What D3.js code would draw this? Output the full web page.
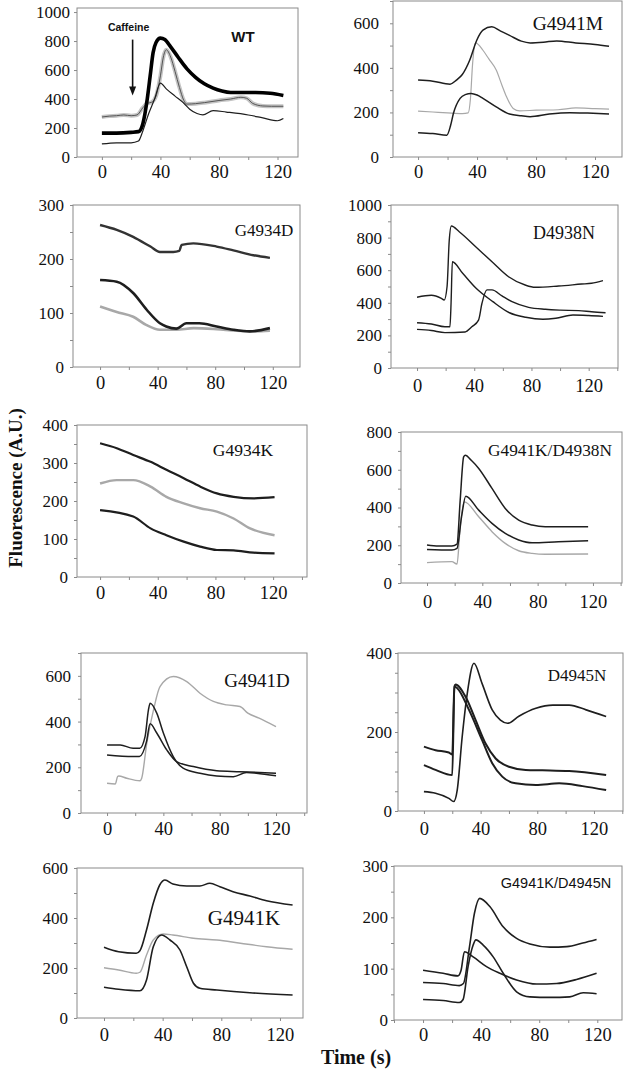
<!DOCTYPE html>
<html><head><meta charset="utf-8">
<script src="https://cdn.jsdelivr.net/npm/d3@7"></script>
<style>
html,body{margin:0;padding:0;background:#fff;}
svg{display:block;}
</style></head>
<body>
<svg id="chart" width="633" height="1079"></svg>
<script>
// ---------- DATA ----------
const panelNames = ["WT","G4941M","G4934D","D4938N","G4934K","G4941K/D4938N","G4941D","D4945N","G4941K","G4941K/D4945N"];
const yMaxes = [1028,700,300,1000,400,800,700,400,600,300];
const yMajorTicks = [
  [0,200,400,600,800,1000],[0,200,400,600],[0,100,200,300],[0,200,400,600,800,1000],[0,100,200,300,400],
  [0,200,400,600,800],[0,200,400,600],[0,200,400],[0,200,400,600],[0,100,200,300]];
const yMinorSteps = [200,100,50,100,50,100,100,50,100,50];
const xTickLabels = [0,40,80,120];
const xTickMarks = [-20,0,20,40,60,80,100,120,140];
const caffeineTime = 21, caffeineFrom = 810, caffeineTo = 425;

// WT
const wtThick = [[0,165],[10,165],[20,170],[25,175],[28,230],[31,400],[33,560],[35,720],[37,790],[40,820],[43,810],[47,760],[52,690],[58,610],[64,550],[70,505],[76,475],[82,455],[88,445],[95,445],[105,445],[115,440],[124,425]];
const wtGray = [[0,276],[5,282],[10,285],[15,290],[20,285],[24,290],[28,340],[31,370],[34,378],[37,420],[40,560],[42,690],[44,740],[47,690],[50,590],[53,480],[56,390],[58,365],[64,368],[70,375],[80,390],[88,400],[95,412],[99,405],[103,370],[110,352],[116,350],[124,350]];
const wtThin = [[0,90],[10,98],[20,98],[25,110],[28,180],[32,300],[36,400],[40,510],[44,470],[50,420],[55,380],[60,330],[65,300],[69,290],[76,320],[85,310],[100,290],[110,270],[120,250],[124,265]];
// G4941M
const mTop = [[0,345],[10,340],[21.7,327],[26,345],[30,370],[35,434],[39.8,524],[44,569],[50,584],[56,565],[62,546],[70,520],[76,512],[85,515],[94,521],[107,512],[120,505],[129.5,497]];
const mGray = [[0,206],[10,202],[20,198],[30,195],[34,198],[35.5,260],[37,420],[39,512],[44,479],[48,440],[53,390],[57,320],[60,270],[64.5,218],[69,207],[80,210],[95,212],[107,220],[120,217],[129.5,215]];
const mBot = [[0,109],[10,105],[19.5,98],[22,140],[24,196],[28.5,263],[32,280],[36,285],[40,278],[44,263],[53,225],[62,193],[70,185],[76,181],[89,193],[103,199],[115,197],[129.5,193]];
// G4934D
const dTop = [[0,263],[11.6,254],[23,241],[35,223],[41.6,213],[50.9,213],[55,215],[56.7,226],[64.8,229],[81,223],[92.6,216],[106.5,207],[118,202]];
const dMid = [[0,161],[11.6,158],[23,137],[32.4,106],[41.6,81],[46,75],[53,71],[60,81],[69,81],[81,75],[92.6,69],[104,66],[118,72]];
const dGray = [[0,112],[11.6,102],[23,93],[32,78],[41.6,69],[53,69],[65,72],[81,70],[95,67],[108,66],[118,67]];
// D4938N
const nTop = [[0,434],[10,446],[17,427],[19,417],[21,500],[22.5,780],[24,871],[29.5,836],[41,744],[52.4,652],[64,560],[75.6,509],[82.6,495],[99,503],[115,515],[122,520],[130,536]];
const nMid = [[0,278],[10,270],[19.5,253],[23,253],[23.8,400],[24.7,652],[31.9,581],[41.3,489],[53,407],[64.6,339],[76,311],[88,299],[97,305],[109,325],[120,322],[130,317]];
const nLate = [[0,237],[10,230],[19.5,217],[33.6,221],[38.3,253],[43,294],[45.4,397],[48.9,479],[52.4,479],[59.4,442],[66.4,407],[78,372],[89.8,360],[100,355],[113,352],[122,345],[131.8,339]];
// G4934K
const kTop = [[0,352],[11.6,339],[23,321],[35,303],[46,282],[58,260],[69.4,238],[81,220],[92.6,211],[106.5,207],[121,210]];
const kGray = [[0,246],[11.6,255],[23,255],[35,238],[46,211],[58,194],[69.4,181],[81,172],[92.6,154],[104,128],[121,110]];
const kBot = [[0,176],[23,159],[35,128],[46,110],[58,93],[69.4,80],[81,71],[92.6,70],[106.5,64],[121,62]];
// G4941K/D4938N
const jTop = [[0,201],[8.3,196],[18,196],[21.7,206],[24,439],[26.5,668],[27.7,677],[32,650],[37.4,607],[47,501],[56.6,395],[66.3,333],[76,307],[85.5,298],[105,298],[116.5,298]];
const jMid = [[0,178],[18,175],[21.7,184],[25,351],[28,460],[37.4,386],[47,316],[56.6,263],[66.3,228],[76,213],[95,219],[116.5,224]];
const jGray = [[0,108],[18,113],[21.7,100],[24,298],[27,430],[37.4,351],[47,272],[56.6,210],[66.3,171],[76,157],[85.5,152],[116.5,154]];
// G4941D
const gA = [[0,298],[9.4,298],[18.5,283],[23.2,283],[27,334],[29.4,451],[30.6,480],[35.3,437],[40,350],[47,247],[54,196],[66,174],[77.9,162],[89.7,159],[99,177],[106,174],[120,163]];
const gB = [[0,254],[18.5,247],[23,247],[28,312],[30.6,390],[35.3,350],[42.4,276],[49.4,225],[61.3,203],[77.9,185],[94.4,181],[120,174]];
const gC = [[0,130],[5.9,127],[7.5,160],[8.3,162],[14,152],[23.4,141],[24.6,152],[28.2,305],[33,451],[37.6,553],[47,597],[56.6,575],[66,524],[75.5,488],[85,473],[94.4,466],[100,437],[108,415],[120,378]];
// D4945N
const eA = [[0,49],[8.2,45],[17.6,32],[21,24],[23.5,53],[27,188],[30.6,298],[35.3,374],[41,323],[48.2,256],[54,230],[59,222],[67,240],[79,260],[91,268],[102.5,268],[114.5,256],[128.6,239]];
const eB = [[0,163],[8.2,154],[17.6,148],[20,143],[21.5,315],[22.3,320],[29.4,289],[36.5,230],[43.5,171],[50.6,133],[60,112],[71.8,104],[83.6,103],[102.5,101],[128.6,91]];
const eC = [[0,116],[8.2,104],[20,91],[21.5,315],[23.5,311],[31.8,256],[41,180],[48.2,121],[55.3,87],[64.7,70],[79,66],[95.5,70],[112,63],[128.6,53]];
// G4941K
const hTop = [[0,283],[10,265],[22,259],[24.5,269],[29,352],[33.6,459],[38,532],[41.6,552],[47,536],[56.4,528],[65.4,528],[72.2,539],[79,525],[88,505],[99.5,488],[110.8,469],[128.6,452]];
const hGray = [[0,201],[10,192],[22,179],[24.5,183],[29,252],[33.6,312],[40.4,336],[47,332],[61,319],[77,312],[93,299],[110.8,285],[128.6,275]];
const hBot = [[0,123],[10,115],[24.5,109],[29,152],[33.6,285],[39.3,332],[45,312],[51.8,272],[56.4,205],[61,139],[65.4,119],[77,112],[99.5,101],[128.6,92]];
// G4941K/D4945N
const iA = [[0,73],[13.8,71],[25,67],[27.8,71],[32,143],[35.4,208],[39,237],[46,221],[55,182],[64.4,159],[73.6,148],[87.4,142],[99,143],[110,150],[119.5,157]];
const iB = [[0,40],[13.8,38],[25,34],[27.6,40],[31,104],[34.5,146],[36.4,156],[41.4,146],[48.3,123],[55.2,91],[64.4,55],[73.6,45],[87.4,44],[101,45],[110.3,53],[119.5,51]];
const iC = [[0,97],[13.8,91],[24,86],[26.2,97],[28.5,133],[34.5,123],[43.7,104],[52.9,91],[64.4,78],[78.2,70],[92,71],[105.7,79],[119.5,91]];

// ---------- LAYOUT / STYLE ----------
const DARK = "#1e1e1e", GRAY = "#a8a8a8";
const layout = [
  {rect:[77,8,298,157],   xd:[-17,134],  title:{x:243,y:36,size:15,font:"sans",bold:true}, lab:7},
  {rect:[393,1,622,157],  xd:[-17,138.3],title:{x:568,y:23,size:19.5}, lab:14},
  {rect:[73,205,300,367], xd:[-18.8,138.9],title:{x:264,y:230,size:17}, lab:9},
  {rect:[391,205,618,368],xd:[-18.2,140.5],title:{x:564,y:233,size:18}, lab:9},
  {rect:[77,425,307,577], xd:[-16,143.5], title:{x:243,y:450,size:17.5}, lab:9},
  {rect:[401,432,622,583],xd:[-18.8,141], title:{x:550,y:450,size:17.3}, lab:9},
  {rect:[81,653,307,813], xd:[-18.5,142], title:{x:257,y:680,size:19}, lab:10},
  {rect:[398,653,623,811],xd:[-18.3,140.5],title:{x:577,y:675,size:17}, lab:6},
  {rect:[77,868,303,1018],xd:[-18.4,135.7],title:{x:244,y:918,size:21}, lab:9},
  {rect:[394,866,622,1020],xd:[-20,137],  title:{x:556,y:883,size:14.5,font:"sans"}, lab:6}
];
const xLabOffset = [15,15,16,18,16,19,16,18,17,15];
const series = [
  [{d:wtGray,c:"#555",w:1,halo:true},{d:wtThin,c:DARK,w:1.2},{d:wtThick,c:"#000",w:3.6}],
  [{d:mGray,c:GRAY,w:1.2},{d:mTop,c:DARK,w:1.5},{d:mBot,c:DARK,w:1.5}],
  [{d:dGray,c:GRAY,w:2.6},{d:dTop,c:"#333",w:2.4},{d:dMid,c:DARK,w:2.6}],
  [{d:nTop,c:DARK,w:1.4},{d:nMid,c:DARK,w:1.4},{d:nLate,c:DARK,w:1.4}],
  [{d:kGray,c:GRAY,w:2.4},{d:kTop,c:DARK,w:2.2},{d:kBot,c:DARK,w:2.2}],
  [{d:jGray,c:GRAY,w:1.4},{d:jTop,c:DARK,w:1.5},{d:jMid,c:DARK,w:1.5}],
  [{d:gC,c:GRAY,w:1.4},{d:gA,c:DARK,w:1.5},{d:gB,c:DARK,w:1.5}],
  [{d:eA,c:DARK,w:1.6},{d:eB,c:DARK,w:2},{d:eC,c:DARK,w:2}],
  [{d:hGray,c:GRAY,w:1.4},{d:hTop,c:DARK,w:1.6},{d:hBot,c:DARK,w:1.6}],
  [{d:iA,c:DARK,w:1.6},{d:iB,c:DARK,w:1.6},{d:iC,c:DARK,w:1.6}]
];
const SERIF = "'Liberation Serif','Times New Roman',serif";
const SANS = "'Liberation Sans',Arial,sans-serif";
const FRAME = "#8a8a8a";

const svg = d3.select("#chart");
svg.append("rect").attr("width",633).attr("height",1079).attr("fill","#fff");

panelNames.forEach((name,i)=>{
  const L = layout[i], [l,t,r,b] = L.rect;
  const x = d3.scaleLinear().domain(L.xd).range([l,r]);
  const y = d3.scaleLinear().domain([0,yMaxes[i]]).range([b,t]);
  const g = svg.append("g");
  g.append("rect").attr("x",l).attr("y",t).attr("width",r-l).attr("height",b-t)
    .attr("fill","none").attr("stroke",FRAME).attr("stroke-width",1);

  // y axis
  const minor = d3.range(0, yMaxes[i]+0.001, yMinorSteps[i]);
  const majors = yMajorTicks[i];
  const ya = g.append("g").attr("transform",`translate(${l},0)`)
    .call(d3.axisLeft(y).tickValues(minor).tickSize(3)
      .tickFormat(v => majors.includes(v) ? String(v) : ""));
  ya.select(".domain").remove();
  ya.selectAll("line").attr("stroke",FRAME);
  ya.selectAll("text").attr("x",-L.lab).attr("font-family",SERIF).attr("font-size",17).attr("fill","#111");

  // x axis
  const xa = g.append("g").attr("transform",`translate(0,${b})`)
    .call(d3.axisBottom(x).tickValues(xTickMarks.filter(v=>v>=L.xd[0]&&v<=L.xd[1])).tickSize(3)
      .tickFormat(v => xTickLabels.includes(v) ? String(v) : ""));
  xa.select(".domain").remove();
  xa.selectAll("line").attr("stroke",FRAME);
  xa.selectAll("text").attr("y",xLabOffset[i]).attr("dy","0.35em")
    .attr("font-family",SERIF).attr("font-size",18.5).attr("fill","#111");

  // series
  const line = d3.line().x(d=>x(d[0])).y(d=>y(d[1])).curve(d3.curveMonotoneX);
  series[i].forEach(s=>{
    if (s.halo) g.append("path").attr("d",line(s.d)).attr("fill","none")
      .attr("stroke","#c4c4c4").attr("stroke-width",4).attr("stroke-linejoin","round");
    g.append("path").attr("d",line(s.d)).attr("fill","none")
      .attr("stroke",s.c).attr("stroke-width",s.w).attr("stroke-linejoin","round");
  });

  // title
  const T = L.title;
  g.append("text").attr("x",T.x).attr("y",T.y).attr("text-anchor","middle").attr("dominant-baseline","central")
    .attr("font-family",T.font==="sans"?SANS:SERIF).attr("font-weight",T.bold?"bold":"normal")
    .attr("font-size",T.size).attr("fill","#111").text(name);

  if (i===0){
    const ax = x(caffeineTime), y1 = y(caffeineFrom), y2 = y(caffeineTo);
    g.append("line").attr("x1",ax).attr("x2",ax).attr("y1",y1).attr("y2",y2-7)
      .attr("stroke","#111").attr("stroke-width",1.6);
    g.append("path").attr("d",`M${ax-3.5},${y2-9} L${ax+3.5},${y2-9} L${ax},${y2} Z`).attr("fill","#111");
    g.append("text").attr("x",ax-4).attr("y",y(897)).attr("text-anchor","middle").attr("dominant-baseline","central")
      .attr("font-family",SANS).attr("font-weight","bold").attr("font-size",10.5).attr("fill","#111").text("Caffeine");
  }
});

// axis titles
svg.append("text").attr("transform","translate(15,488) rotate(-90)").attr("text-anchor","middle")
  .attr("dominant-baseline","central").attr("font-family",SERIF).attr("font-weight","bold")
  .attr("font-size",19).attr("fill","#111").text("Fluorescence (A.U.)");
svg.append("text").attr("x",356).attr("y",1057).attr("text-anchor","middle")
  .attr("dominant-baseline","central").attr("font-family",SERIF).attr("font-weight","bold")
  .attr("font-size",20).attr("fill","#111").text("Time (s)");
</script>
</body></html>
